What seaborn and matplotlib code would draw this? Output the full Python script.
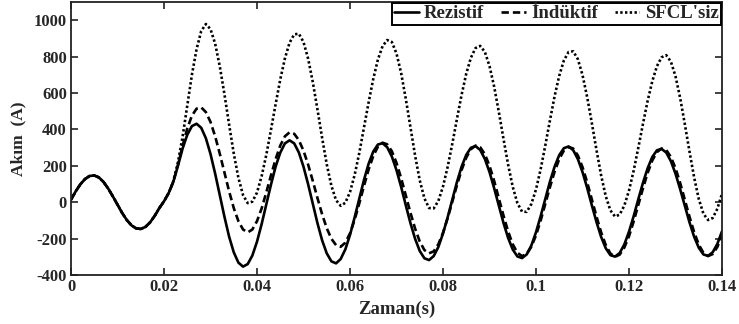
import numpy as np
import pandas as pd
import seaborn as sns
import matplotlib
matplotlib.use("Agg")
import matplotlib.pyplot as plt

t = np.linspace(0.0, 0.14, 141)

# common pre-fault current, t = 0.000 ... 0.019 s
prefault = [14, 59, 98, 127, 144, 147, 136, 111, 75, 32,
            -14, -59, -98, -127, -144, -147, -136, -111, -75, -32]

# t = 0.020 ... 0.140 s
rezistif_post = [
    5, 50, 112, 200, 295, 370, 418, 431, 409, 352,
    265, 157, 38, -80, -189, -275, -332, -354, -340, -293,
    -217, -120, -13, 96, 195, 272, 323, 340, 323, 273,
    195, 98, -8, -115, -209, -281, -325, -336, -312, -259,
    -180, -83, 20, 122, 211, 278, 317, 324, 302, 251,
    176, 84, -17, -115, -201, -268, -308, -318, -296, -246,
    -172, -83, 15, 111, 195, 260, 299, 308, 287, 238,
    166, 77, -19, -113, -196, -260, -298, -307, -287, -238,
    -165, -77, 19, 113, 195, 259, 297, 306, 286, 237,
    166, 79, -16, -108, -190, -253, -291, -299, -279, -232,
    -162, -77, 16, 106, 186, 248, 285, 293, 273, 226,
    157, 72, -20, -110, -189, -250, -287, -295, -275, -229,
    -160]

induktif_post = [
    5, 50, 112, 205, 310, 405, 475, 514, 521, 495,
    441, 362, 266, 163, 60, -32, -104, -150, -166, -150,
    -104, -34, 54, 147, 236, 311, 362, 384, 376, 341,
    283, 206, 117, 23, -66, -143, -201, -236, -245, -222,
    -171, -96, -6, 89, 179, 254, 305, 327, 318, 280,
    216, 132, 38, -58, -145, -216, -263, -281, -270, -231,
    -168, -88, 2, 93, 177, 245, 291, 311, 302, 264,
    200, 117, 22, -73, -160, -231, -278, -296, -284, -245,
    -182, -101, -10, 83, 168, 237, 284, 304, 295, 257,
    193, 110, 17, -78, -165, -235, -282, -300, -288, -249,
    -187, -106, -16, 76, 160, 229, 275, 295, 287, 249,
    187, 106, 14, -79, -164, -233, -278, -296, -285, -246,
    -184]

sfclsiz_post = [
    5, 50, 115, 220, 360, 530, 700, 840, 940, 979,
    951, 871, 746, 593, 427, 268, 134, 39, -5, 3,
    53, 143, 260, 397, 538, 674, 790, 876, 922, 926,
    880, 788, 660, 510, 354, 208, 90, 11, -20, -3,
    56, 150, 271, 408, 548, 677, 784, 857, 891, 880,
    817, 709, 568, 411, 256, 120, 21, -32, -34, 7,
    86, 194, 321, 458, 590, 706, 794, 847, 859, 826,
    748, 635, 497, 349, 207, 84, -5, -52, -53, -10,
    70, 181, 312, 450, 582, 695, 779, 825, 829, 786,
    699, 578, 436, 288, 148, 33, -45, -79, -68, -18,
    64, 173, 299, 430, 556, 664, 747, 796, 808, 773,
    692, 573, 430, 280, 137, 18, -63, -98, -87, -36,
    47]

series_names = ["Rezistif", "İndüktif", "SFCL'siz"]
series_values = [prefault + rezistif_post,
                 prefault + induktif_post,
                 prefault + sfclsiz_post]

x_ticks = [0, 0.02, 0.04, 0.06, 0.08, 0.1, 0.12, 0.14]
x_ticklabels = ["0", "0.02", "0.04", "0.06", "0.08", "0.1", "0.12", "0.14"]
y_ticks = [-400, -200, 0, 200, 400, 600, 800, 1000]

# ---- build long-form table ----
df = pd.concat([pd.DataFrame({"Zaman": t, "Akim": v, "Seri": n})
                for n, v in zip(series_names, series_values)],
               ignore_index=True)

sns.set_style("ticks")
plt.rcParams["font.family"] = ["Liberation Serif", "DejaVu Serif"]
plt.rcParams["font.weight"] = "bold"
plt.rcParams["axes.labelweight"] = "bold"
plt.rcParams["axes.unicode_minus"] = False

fig = plt.figure(figsize=(7.39, 3.24), dpi=100)
ax = fig.add_axes([71 / 739, 1 - 275 / 324, (722 - 71) / 739, (275 - 2) / 324])

sns.lineplot(data=df, x="Zaman", y="Akim", style="Seri",
             style_order=series_names, color="black",
             dashes={"Rezistif": "", "İndüktif": (2.8, 1.5), "SFCL'siz": (0.9, 0.9)},
             linewidth=1.9, legend=False, ax=ax, estimator=None, sort=False)

ax.set_xlim(0, 0.14)
ax.set_ylim(-400, 1100)
ax.set_xticks(x_ticks)
ax.set_xticklabels(x_ticklabels)
ax.set_yticks(y_ticks)
ax.tick_params(direction="in", length=5, width=1.2, top=True, right=True,
               labelsize=12, pad=3, color="#222222")
for lab in ax.get_xticklabels() + ax.get_yticklabels():
    lab.set_fontweight("bold")
for s in ax.spines.values():
    s.set_visible(True)
    s.set_linewidth(1.3)
    s.set_color("#222222")

ax.set_xlabel("Zaman(s)", fontsize=13.5, fontweight="bold", labelpad=4)
ax.set_ylabel("Akım  (A)", fontsize=12.5, fontweight="bold", labelpad=5)

leg = ax.legend(handles=ax.lines[:3], labels=series_names, loc="upper right",
                bbox_to_anchor=(1.0, 1.0), ncol=3, frameon=True, fancybox=False,
                framealpha=1, edgecolor="black", borderaxespad=0.05,
                handlelength=1.3, handletextpad=0.3, columnspacing=0.9,
                borderpad=0.12, prop={"size": 13.5, "weight": "bold"})
leg.get_frame().set_linewidth(1.4)

fig.savefig("out.png", dpi=100)
